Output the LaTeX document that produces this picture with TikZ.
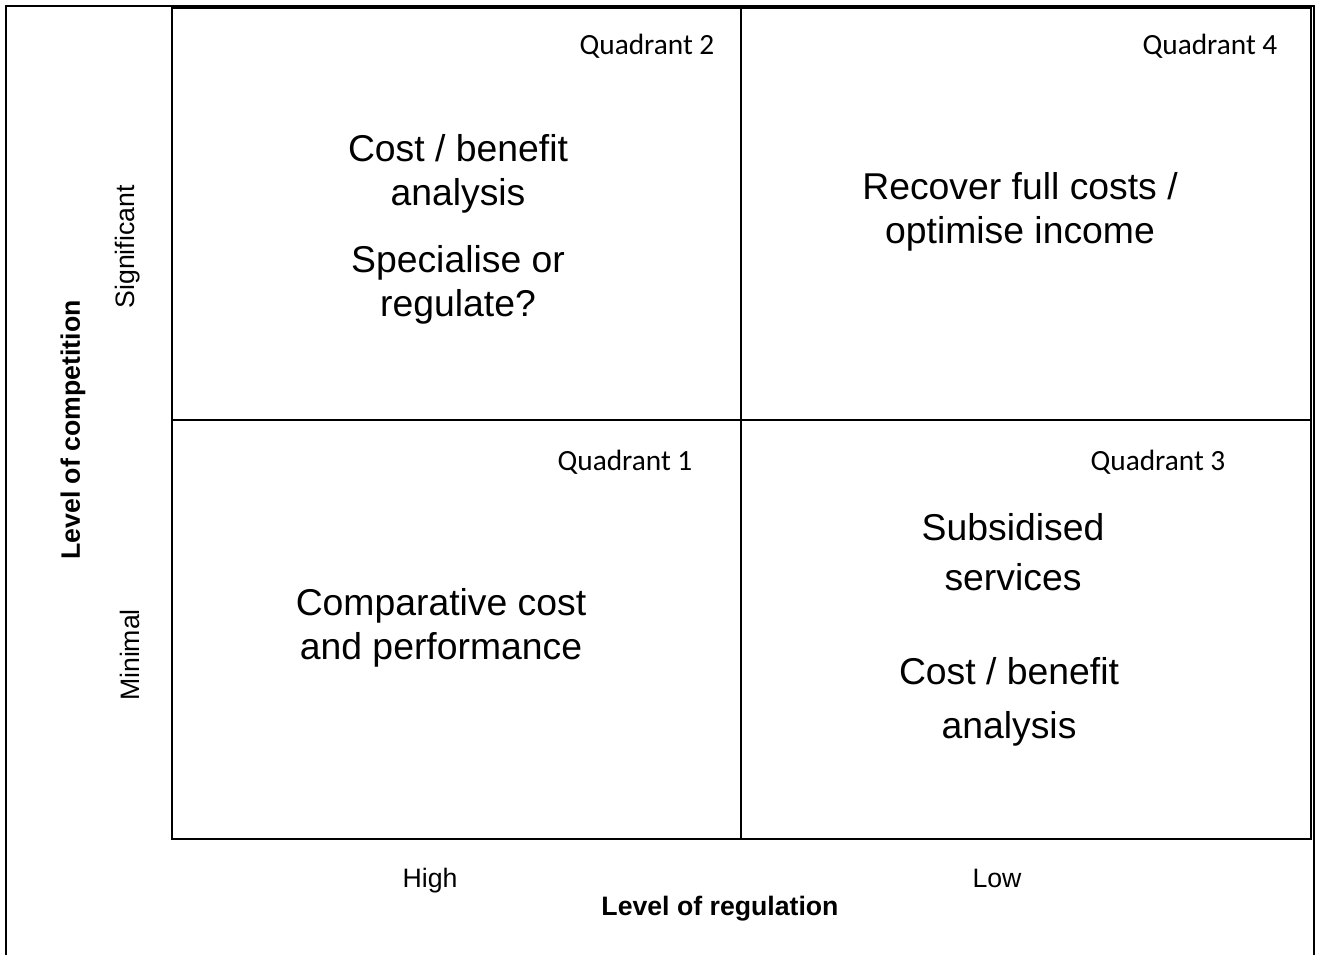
\documentclass[tikz,border=0pt]{standalone}
\usepackage{fontspec}
\setmainfont{Liberation Sans}
\newfontfamily\quadfont{Carlito}
\usetikzlibrary{
  positioning,
  calc
}

\begin{document}
\begin{tikzpicture}[x=0.75pt, y=-0.75pt,
    grid/.style = {draw, line width=1.5pt},
    frame/.style = {draw, line width=1pt},
    quad/.style = {font=\quadfont\fontsize{22}{26}\selectfont},
    big/.style = {align=center, font=\fontsize{28}{33}\selectfont},
    axis/.style = {font=\fontsize{20}{24}\selectfont},
    axistitle/.style = {font=\bfseries\fontsize{20}{24}\selectfont}]
    \useasboundingbox (0,0) rectangle (1317,954);

    % outer frame, open at the bottom
    \coordinate (fbl) at (6,960);
    \coordinate (ftl) at (6,6);
    \coordinate (ftr) at (1314,6);
    \coordinate (fbr) at (1314,960);
    \draw[frame] (fbl) -- (ftl) -- (ftr) -- (fbr);

    % the four quadrants
    \coordinate (tl) at (172,8);
    \coordinate (br) at (1311,839);
    \coordinate (mt) at (741,8);
    \coordinate (mb) at (741,839);
    \coordinate (ml) at (172,420);
    \coordinate (mr) at (1311,420);
    \draw[grid] (tl) rectangle (br);
    \draw[grid] (mt) -- (mb);
    \draw[grid] (ml) -- (mr);

    \node[quad] (q2) at (647,46) {Quadrant 2};
    \node[quad] (q4) at (1210,46) {Quadrant 4};
    \node[quad] (q1) at (625,462) {Quadrant 1};
    \node[quad] (q3) at (1158,462) {Quadrant 3};

    \node[big] (cb2) at (458,174) {Cost / benefit\\analysis};
    \node[big] (spec) at (458,285) {Specialise or\\ regulate?};
    \node[big] (rec) at (1020,212) {Recover full costs /\\optimise income};
    \node[big] (comp) at (441,628) {Comparative cost\\and performance};
    \node[big, font=\fontsize{28}{37.5}\selectfont] (sub) at (1013,552) {Subsidised\\services};
    \node[big, font=\fontsize{28}{40}\selectfont] (cb3) at (1009,702) {Cost / benefit\\analysis};

    % axes
    \node[axis, anchor=base] (high) at (430,887) {High};
    \node[axis, anchor=base] (low) at (997,887) {Low};
    \node[axistitle, anchor=base] (xt) at (720,915) {Level of regulation};
    \node[axis, rotate=90] (sig) at (128,247) {Significant};
    \node[axis, rotate=90] (min) at (130,655) {Minimal};
    \node[axistitle, rotate=90] (yt) at (73,430) {Level of competition};
\end{tikzpicture}
\end{document}
